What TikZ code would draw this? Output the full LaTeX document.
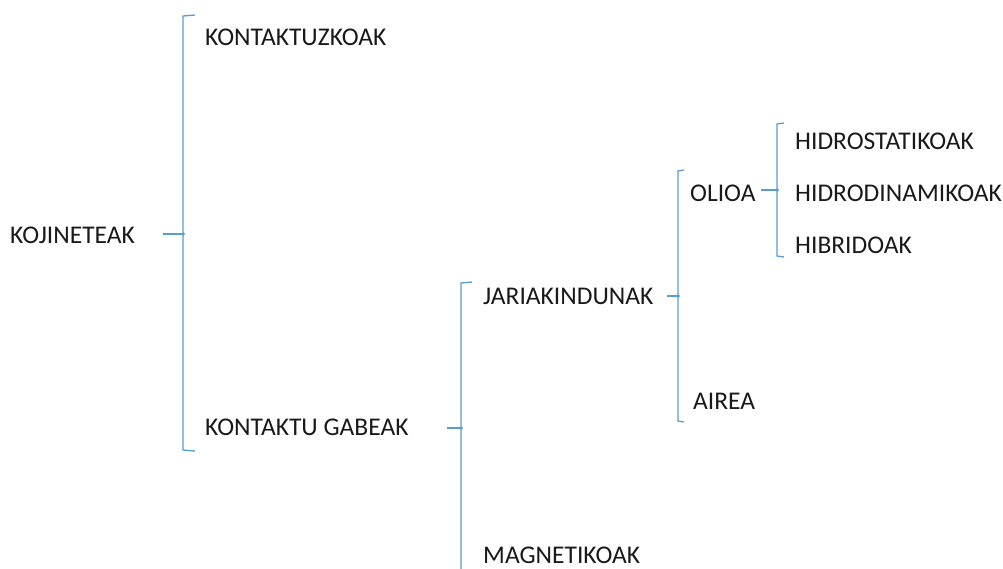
\documentclass[tikz,border=0pt]{standalone}
\usepackage{fontspec}
\setmainfont{Carlito}
\definecolor{brk}{RGB}{91,155,213}
\begin{document}
\begin{tikzpicture}[x=1pt,y=-1pt,
  lbl/.style={anchor=base west,inner sep=0pt,font=\fontsize{25.5}{30}\selectfont,text=black!90},
  brace/.style={draw=brk,line width=1.3pt,line join=miter}]
\useasboundingbox (0,0) rectangle (1003,568);
\clip (0,0) rectangle (1003,568);
% texts
\node[lbl] (koj) at (10,243) {KOJINETEAK};
\node[lbl] (kon) at (205,45) {KONTAKTUZKOAK};
\node[lbl] (gab) at (205,435) {KONTAKTU GABEAK};
\node[lbl] (jar) at (483,304) {JARIAKINDUNAK};
\node[lbl] (mag) at (483,563) {MAGNETIKOAK};
\node[lbl] (oli) at (690,201) {OLIOA};
\node[lbl] (air) at (693,409) {AIREA};
\node[lbl] (hst) at (795,149) {HIDROSTATIKOAK};
\node[lbl] (hdn) at (795,201) {HIDRODINAMIKOAK};
\node[lbl] (hib) at (795,253) {HIBRIDOAK};
% bracket coordinates
\coordinate (b1) at (183,234);
\coordinate (b2) at (461,428);
\coordinate (b3) at (678,296);
\coordinate (b4) at (777,190);
% brackets
\draw[brace] (195,15) -- (183,16) -- (183,232.5) -- (184.2,234) -- (183,235.5) -- (183,450) -- (195,451);
\draw[brace] (163,234) -- (b1);
\draw[brace] (472,282) -- (461,283) -- (461,426.5) -- (462.2,428) -- (461,429.5) -- (461,575);
\draw[brace] (447,428) -- (b2);
\draw[brace] (684,170) -- (678,171) -- (678,294.5) -- (679.2,296) -- (678,297.5) -- (678,421) -- (684,422);
\draw[brace] (667,296) -- (b3);
\draw[brace] (784,123) -- (777,124) -- (777,188.5) -- (778.2,190) -- (777,191.5) -- (777,256) -- (784,257);
\draw[brace] (761,190) -- (b4);
\end{tikzpicture}
\end{document}
